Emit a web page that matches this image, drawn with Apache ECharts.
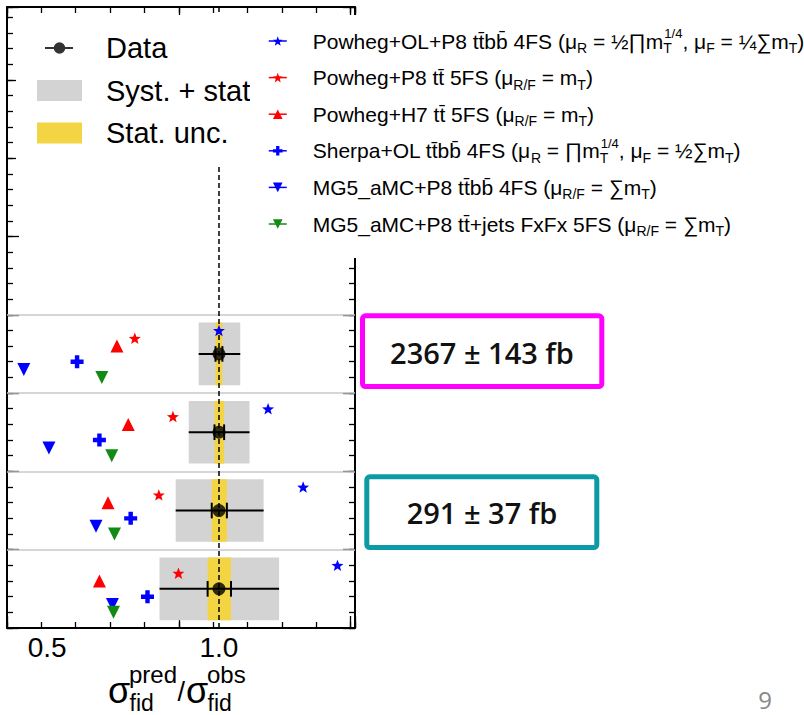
<!DOCTYPE html>
<html>
<head>
<meta charset="utf-8">
<script src="https://cdn.jsdelivr.net/npm/echarts@6/dist/echarts.min.js"></script>
<style>
html, body { margin: 0; padding: 0; background: #fff; }
#chart { width: 804px; height: 715px; }
</style>
</head>
<body>
<div id="chart"></div>
<script>
// rows from bottom to top
const rowCenters = [0.5, 1.5, 2.5, 3.5]
const separators = [1, 2, 3, 4]

// measured ratio and uncertainties
const dataValue = [1.0, 1.0, 1.0, 1.0]
const totalLow = [0.827, 0.874, 0.912, 0.941]
const totalHigh = [1.175, 1.130, 1.089, 1.062]
const statLow = [0.967, 0.979, 0.987, 0.990]
const statHigh = [1.035, 1.023, 1.015, 1.010]

// predictions / observed
const powhegOlTtbb = [1.345, 1.245, 1.143, 1.000]
const powhegP8Tt = [0.882, 0.825, 0.866, 0.755]
const powhegH7Tt = [0.652, 0.677, 0.736, 0.703]
const sherpaOlTtbb = [0.792, 0.743, 0.652, 0.587]
const mg5Ttbb = [0.690, 0.642, 0.505, 0.432]
const mg5TtJets = [0.693, 0.696, 0.688, 0.659]

const modelNames = [
  'Powheg+OL+P8 ttbb 4FS',
  'Powheg+P8 tt 5FS',
  'Powheg+H7 tt 5FS',
  'Sherpa+OL ttbb 4FS',
  'MG5_aMC+P8 ttbb 4FS',
  'MG5_aMC+P8 tt+jets FxFx 5FS'
]
const modelLabels = [
  'Powheg+OL+P8 tt\u0304bb\u0304 4FS (\u03bc{sb|R} = \u00bd\u220fm{sbz|T}{sp|1/4}, \u03bc{sb|F} = \u00bc\u2211m{sb|T})',
  'Powheg+P8 tt\u0304 5FS (\u03bc{sb|R/F} = m{sb|T})',
  'Powheg+H7 tt\u0304 5FS (\u03bc{sb|R/F} = m{sb|T})',
  'Sherpa+OL tt\u0304bb\u0304 4FS (\u03bc{sb|R} = \u220fm{sbz|T}{sp|1/4}, \u03bc{sb|F} = \u00bd\u2211m{sb|T})',
  'MG5_aMC+P8 tt\u0304bb\u0304 4FS (\u03bc{sb|R/F} = \u2211m{sb|T})',
  'MG5_aMC+P8 tt\u0304+jets FxFx 5FS (\u03bc{sb|R/F} = \u2211m{sb|T})'
]
const modelValues = [powhegOlTtbb, powhegP8Tt, powhegH7Tt, sherpaOlTtbb, mg5Ttbb, mg5TtJets]

const xMajorTicks = [0.5, 1.0]
const xsecValue = [2367, 291]
const xsecError = [143, 37]

// layout / style
const modelOffsets = [0.3, 0.2, 0.1, -0.1, -0.2, -0.3]
const modelColors = ['#0000ff', '#ff0000', '#ff0000', '#0000ff', '#0000ff', '#138a13']
const starPath = 'path://M0,-10 L2.5,-3.3 L9.51,-3.09 L4,1.3 L5.88,8.09 L0,4.2 L-5.88,8.09 L-4,1.3 L-9.51,-3.09 L-2.5,-3.3 Z'
const plusPath = 'path://M3.3,0 H6.7 V3.3 H10 V6.7 H6.7 V10 H3.3 V6.7 H0 V3.3 H3.3 Z'
const modelSymbols = [starPath, starPath, 'triangle', plusPath, 'triangle', 'triangle']
const modelRotate = [0, 0, 0, 0, 180, 180]
const modelSizes = [12, 12, 13, 13, 13, 13]
const dataIcon = 'path://M0,0 h0.01 v0.01 z M45,21 h-0.01 v-0.01 z M8,9.5 H36 V11.5 H8 Z M28.3,10.5 A5.8,5.8 0 1,1 16.7,10.5 A5.8,5.8 0 1,1 28.3,10.5 Z'

const font = "'Liberation Sans', Arial, Helvetica, sans-serif"
const slideFont = "'Open Sans', 'Noto Sans', sans-serif"

const labelByName = {}
modelNames.forEach((n, i) => { labelByName[n] = modelLabels[i] })

const chart = echarts.init(document.getElementById('chart'), null, {renderer: 'svg'})

function xAxisDef (position, interval, len, withLine, withLabel) {
  return {
    type: 'value',
    position: position,
    min: 0.383,
    max: 1.396,
    interval: interval,
    axisLine: {show: withLine, onZero: false, lineStyle: {color: '#000', width: 2}},
    axisTick: {show: true, inside: true, length: len, lineStyle: {color: '#000', width: 1.3}},
    axisLabel: {
      show: withLabel,
      customValues: xMajorTicks,
      hideOverlap: false,
      margin: 5,
      fontSize: 28,
      fontFamily: font,
      color: '#000',
      formatter: v => (+v).toFixed(1)
    },
    splitLine: {show: false}
  }
}

function yAxisDef (position, min, max, interval, len, withLine) {
  return {
    type: 'value',
    position: position,
    min: min,
    max: max,
    interval: interval,
    axisLine: {show: withLine, onZero: false, lineStyle: {color: '#000', width: 2}},
    axisTick: {show: len > 0, inside: true, length: len, lineStyle: {color: '#000', width: 1.3}},
    axisLabel: {show: false},
    splitLine: {show: false}
  }
}

function boxRenderer (color) {
  return function (params, api) {
    const p0 = api.coord([api.value(0), api.value(2) + 0.4])
    const p1 = api.coord([api.value(1), api.value(2) - 0.4])
    return {
      type: 'rect',
      shape: {x: p0[0], y: p0[1], width: p1[0] - p0[0], height: p1[1] - p0[1]},
      style: {fill: color}
    }
  }
}

function errorBarRenderer (params, api) {
  const y = api.value(4)
  const a = api.coord([api.value(0), y])
  const b = api.coord([api.value(1), y])
  const s = {stroke: '#000', lineWidth: 2}
  const children = [{type: 'line', shape: {x1: a[0], y1: a[1], x2: b[0], y2: b[1]}, style: s}]
  ;[2, 3].forEach(k => {
    const t = api.coord([api.value(k), y + 0.1])
    const d = api.coord([api.value(k), y - 0.1])
    children.push({type: 'line', shape: {x1: t[0], y1: t[1], x2: d[0], y2: d[1]}, style: s})
  })
  return {type: 'group', children: children}
}

const series = [
  {
    name: 'Syst. + stat. unc.',
    type: 'custom',
    z: 1,
    itemStyle: {color: '#d3d3d3'},
    renderItem: boxRenderer('#d3d3d3'),
    encode: {x: [0, 1], y: 2},
    data: rowCenters.map((r, i) => [totalLow[i], totalHigh[i], r])
  },
  {
    name: 'Stat. unc.',
    type: 'custom',
    z: 2,
    itemStyle: {color: '#f3d544'},
    renderItem: boxRenderer('#f3d544'),
    encode: {x: [0, 1], y: 2},
    data: rowCenters.map((r, i) => [statLow[i], statHigh[i], r])
  },
  {
    name: 'Data unc.',
    type: 'custom',
    z: 4,
    renderItem: errorBarRenderer,
    encode: {x: [0, 1], y: 4},
    data: rowCenters.map((r, i) => [totalLow[i], totalHigh[i], statLow[i], statHigh[i], r])
  },
  {
    name: 'Data',
    type: 'scatter',
    z: 5,
    symbol: 'circle',
    symbolSize: 13,
    itemStyle: {color: '#000'},
    data: rowCenters.map((r, i) => [dataValue[i], r]),
    markLine: {
      silent: true,
      z: 3,
      symbol: 'none',
      label: {show: false},
      data: separators.map(v => ({yAxis: v, lineStyle: {color: '#c8c8c8', width: 1.5, type: 'solid'}}))
        .concat([{xAxis: 1.0, lineStyle: {color: '#000', width: 1.5, type: [5, 3]}}])
    }
  }
]

modelNames.forEach((name, i) => {
  series.push({
    name: name,
    type: 'line',
    z: 6,
    symbol: modelSymbols[i],
    symbolSize: modelSizes[i],
    symbolRotate: modelRotate[i],
    symbolKeepAspect: true,
    showSymbol: true,
    color: modelColors[i],
    itemStyle: {color: modelColors[i], borderWidth: 0},
    lineStyle: {width: 0, opacity: 0},
    data: modelValues[i].map((v, r) => [v, rowCenters[r] + modelOffsets[i]])
  })
})

const option = {
  animation: false,
  backgroundColor: '#fff',
  grid: {left: 7, top: 7, right: 449, bottom: 87, containLabel: false, outerBoundsMode: 'none'},
  xAxis: [
    xAxisDef('bottom', 0.1, 6, true, true),
    xAxisDef('bottom', 0.5, 12, false, false),
    xAxisDef('top', 0.1, 6, true, false),
    xAxisDef('top', 0.5, 12, false, false)
  ],
  yAxis: [
    yAxisDef('left', 0, 7.93, null, 0, true),
    yAxisDef('left', 0.1, 8.03, 0.2, 6, false),
    yAxisDef('left', -0.5, 7.43, 1, 12, false),
    yAxisDef('right', 0.1, 8.03, 0.2, 6, true),
    yAxisDef('right', -0.5, 7.43, 1, 12, false)
  ],
  legend: [
    {
      orient: 'vertical',
      left: 16,
      top: 15,
      z: 10,
      padding: [18, 8, 17, 21],
      backgroundColor: '#fff',
      itemWidth: 45,
      itemHeight: 21,
      itemGap: 12.5,
      selectedMode: false,
      itemStyle: {borderWidth: 0},
      textStyle: {fontSize: 29, lineHeight: 30, fontFamily: font, color: '#000', padding: [0, 0, 0, 19]},
      data: [
        {name: 'Data', icon: dataIcon},
        {name: 'Syst. + stat. unc.', icon: 'rect'},
        {name: 'Stat. unc.', icon: 'rect'}
      ]
    },
    {
      orient: 'vertical',
      left: 250,
      top: 15,
      z: 11,
      padding: [12, 8, 20, 18],
      backgroundColor: '#fff',
      itemWidth: 18,
      itemHeight: 12,
      itemGap: 8.6,
      selectedMode: false,
      lineStyle: {width: 1.5, opacity: 1},
      itemStyle: {borderWidth: 0},
      data: modelNames,
      formatter: name => labelByName[name],
      textStyle: {
        fontSize: 21,
        lineHeight: 28,
        fontFamily: font,
        color: '#000',
        padding: [0, 0, 0, 21],
        rich: {
          sb: {fontSize: 14, lineHeight: 14, verticalAlign: 'bottom', fontFamily: font, color: '#000'},
          sbz: {fontSize: 14, lineHeight: 14, width: 1, verticalAlign: 'bottom', fontFamily: font, color: '#000'},
          sp: {fontSize: 13, lineHeight: 13, verticalAlign: 'top', fontFamily: font, color: '#000'}
        }
      }
    }
  ],
  graphic: [
    // x axis title: sigma_fid^pred / sigma_fid^obs
    {type: 'text', style: {text: '\u03c3', x: 108, y: 690, font: '36px ' + font, fill: '#000', textAlign: 'left', textVerticalAlign: 'middle'}},
    {type: 'text', style: {text: 'pred', x: 129, y: 674.5, font: '24px ' + font, fill: '#000', textAlign: 'left', textVerticalAlign: 'middle'}},
    {type: 'text', style: {text: 'fid', x: 129.5, y: 702.5, font: '23px ' + font, fill: '#000', textAlign: 'left', textVerticalAlign: 'middle'}},
    {type: 'text', style: {text: '/', x: 177.5, y: 691.5, font: '27px ' + font, fill: '#000', textAlign: 'left', textVerticalAlign: 'middle'}},
    {type: 'text', style: {text: '\u03c3', x: 186, y: 690, font: '36px ' + font, fill: '#000', textAlign: 'left', textVerticalAlign: 'middle'}},
    {type: 'text', style: {text: 'obs', x: 207, y: 674.5, font: '24px ' + font, fill: '#000', textAlign: 'left', textVerticalAlign: 'middle'}},
    {type: 'text', style: {text: 'fid', x: 207.5, y: 702.5, font: '23px ' + font, fill: '#000', textAlign: 'left', textVerticalAlign: 'middle'}},
    // cross-section boxes
    {type: 'rect', shape: {x: 362.5, y: 315.8, width: 239.3, height: 70.7, r: 3}, style: {fill: '#fff', stroke: '#ff00ff', lineWidth: 5}},
    {type: 'text', style: {text: xsecValue[0] + ' \u00b1 ' + xsecError[0] + ' fb', x: 482, y: 352, font: '600 29px ' + slideFont, fill: '#111', textAlign: 'center', textVerticalAlign: 'middle'}},
    {type: 'rect', shape: {x: 366.8, y: 476.8, width: 230, height: 70.7, r: 3}, style: {fill: '#fff', stroke: '#0c9aa6', lineWidth: 5}},
    {type: 'text', style: {text: xsecValue[1] + ' \u00b1 ' + xsecError[1] + ' fb', x: 482, y: 512.5, font: '600 29px ' + slideFont, fill: '#111', textAlign: 'center', textVerticalAlign: 'middle'}},
    // slide page number
    {type: 'text', style: {text: '9', x: 765, y: 699, font: '24px ' + slideFont, fill: '#888', textAlign: 'center', textVerticalAlign: 'middle'}}
  ],
  series: series
}

chart.setOption(option)
</script>
</body>
</html>
